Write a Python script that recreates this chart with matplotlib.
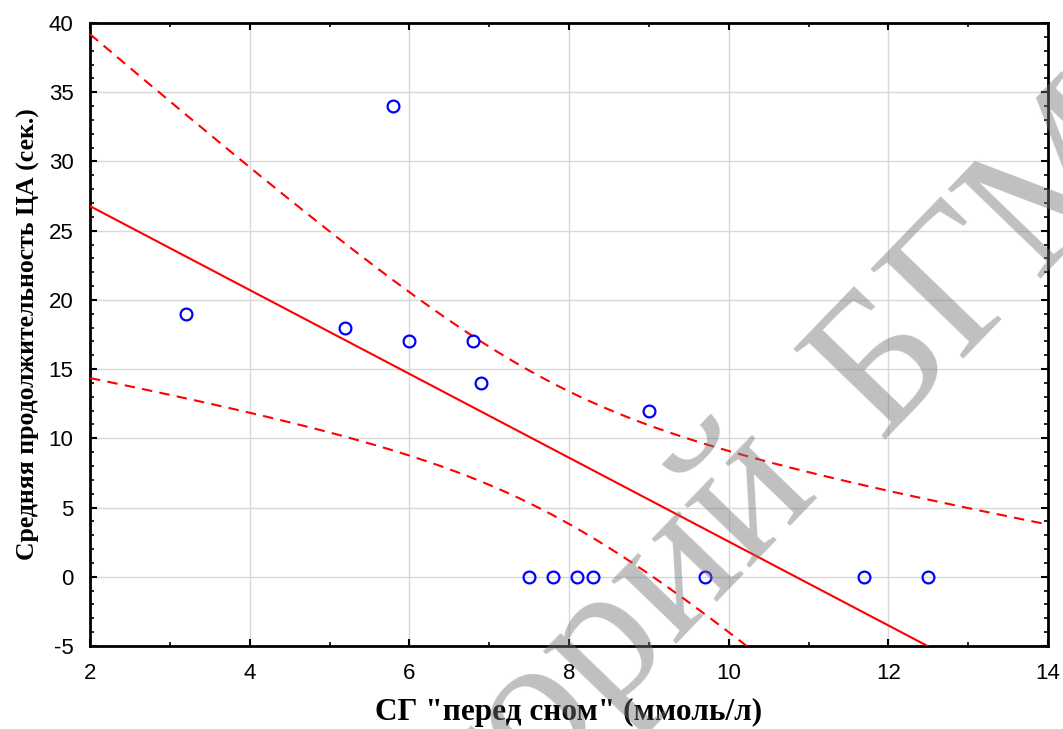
import numpy as np
import matplotlib
matplotlib.use("Agg")
import matplotlib.pyplot as plt
from matplotlib.ticker import MultipleLocator

plt.rcParams["axes.unicode_minus"] = False

# data
sg_before_sleep = [3.2, 5.8, 5.2, 6.0, 6.8, 6.9, 9.0, 7.5, 7.8, 8.1, 8.3, 9.7, 11.7, 12.5]
ca_duration = [19, 34, 18, 17, 17, 14, 12, 0, 0, 0, 0, 0, 0, 0]

x_label = 'СГ "перед сном" (ммоль/л)'
y_label = "Средняя продолжительность ЦА (сек.)"
x_ticks = [2, 4, 6, 8, 10, 12, 14]
y_ticks = [-5, 0, 5, 10, 15, 20, 25, 30, 35, 40]
t_crit = 2.1788  # t(0.975, n-2=12)

x = np.array(sg_before_sleep)
y = np.array(ca_duration)
n = len(x)
b, a = np.polyfit(x, y, 1)
resid = y - (a + b * x)
s = np.sqrt(np.sum(resid ** 2) / (n - 2))
sxx = np.sum((x - x.mean()) ** 2)

xx = np.linspace(2, 14, 300)
yy = a + b * xx
half = t_crit * s * np.sqrt(1 / n + (xx - x.mean()) ** 2 / sxx)

fig = plt.figure(figsize=(10.63, 7.29), dpi=100)
ax = fig.add_axes([0.0847, 0.1139, 0.9012, 0.8545])

ax.plot(xx, yy, color="red", lw=1.5, zorder=3)
ax.plot(xx, yy + half, color="red", lw=1.5, ls=(0, (5, 3.5)), zorder=3)
ax.plot(xx, yy - half, color="red", lw=1.5, ls=(0, (5, 3.5)), zorder=3)
ax.plot(x, y, "o", mfc="none", mec="blue", ms=8.5, mew=1.6, zorder=4)

ax.set_xlim(2, 14)
ax.set_ylim(-5, 40)
ax.set_xticks(x_ticks)
ax.set_yticks(y_ticks)
ax.xaxis.set_minor_locator(MultipleLocator(1))
ax.yaxis.set_minor_locator(MultipleLocator(1))
ax.grid(True, which="major", color="#d8d8d8", lw=1)
ax.set_axisbelow(True)
ax.tick_params(which="both", direction="in", top=True, right=True, color="black")
ax.tick_params(which="major", length=5, width=1.5, labelsize=16)
ax.tick_params(axis="x", which="major", pad=12)
ax.tick_params(axis="y", which="major", pad=12)
ax.tick_params(which="minor", length=3, width=1.2)
for lab in ax.get_xticklabels() + ax.get_yticklabels():
    lab.set_fontfamily("Liberation Sans")
for sp in ax.spines.values():
    sp.set_linewidth(2)

ax.set_xlabel(x_label, fontfamily="Liberation Serif", fontweight="bold", fontsize=22.5, labelpad=10)
ax.set_ylabel(y_label, fontfamily="Liberation Serif", fontweight="bold", fontsize=18.5, labelpad=6)

# repository watermark
wm = dict(fontfamily="Liberation Serif", fontsize=142, color="0.45", alpha=0.45,
          rotation=46, rotation_mode="anchor", va="baseline", zorder=10,
          transform=None, clip_on=True)
fig.text(880, 729 - 440, "БГМУ", ha="left", **wm)
fig.text(820, 729 - 490, "Репозиторий", ha="right", **wm)

fig.savefig("out.png", dpi=100)
